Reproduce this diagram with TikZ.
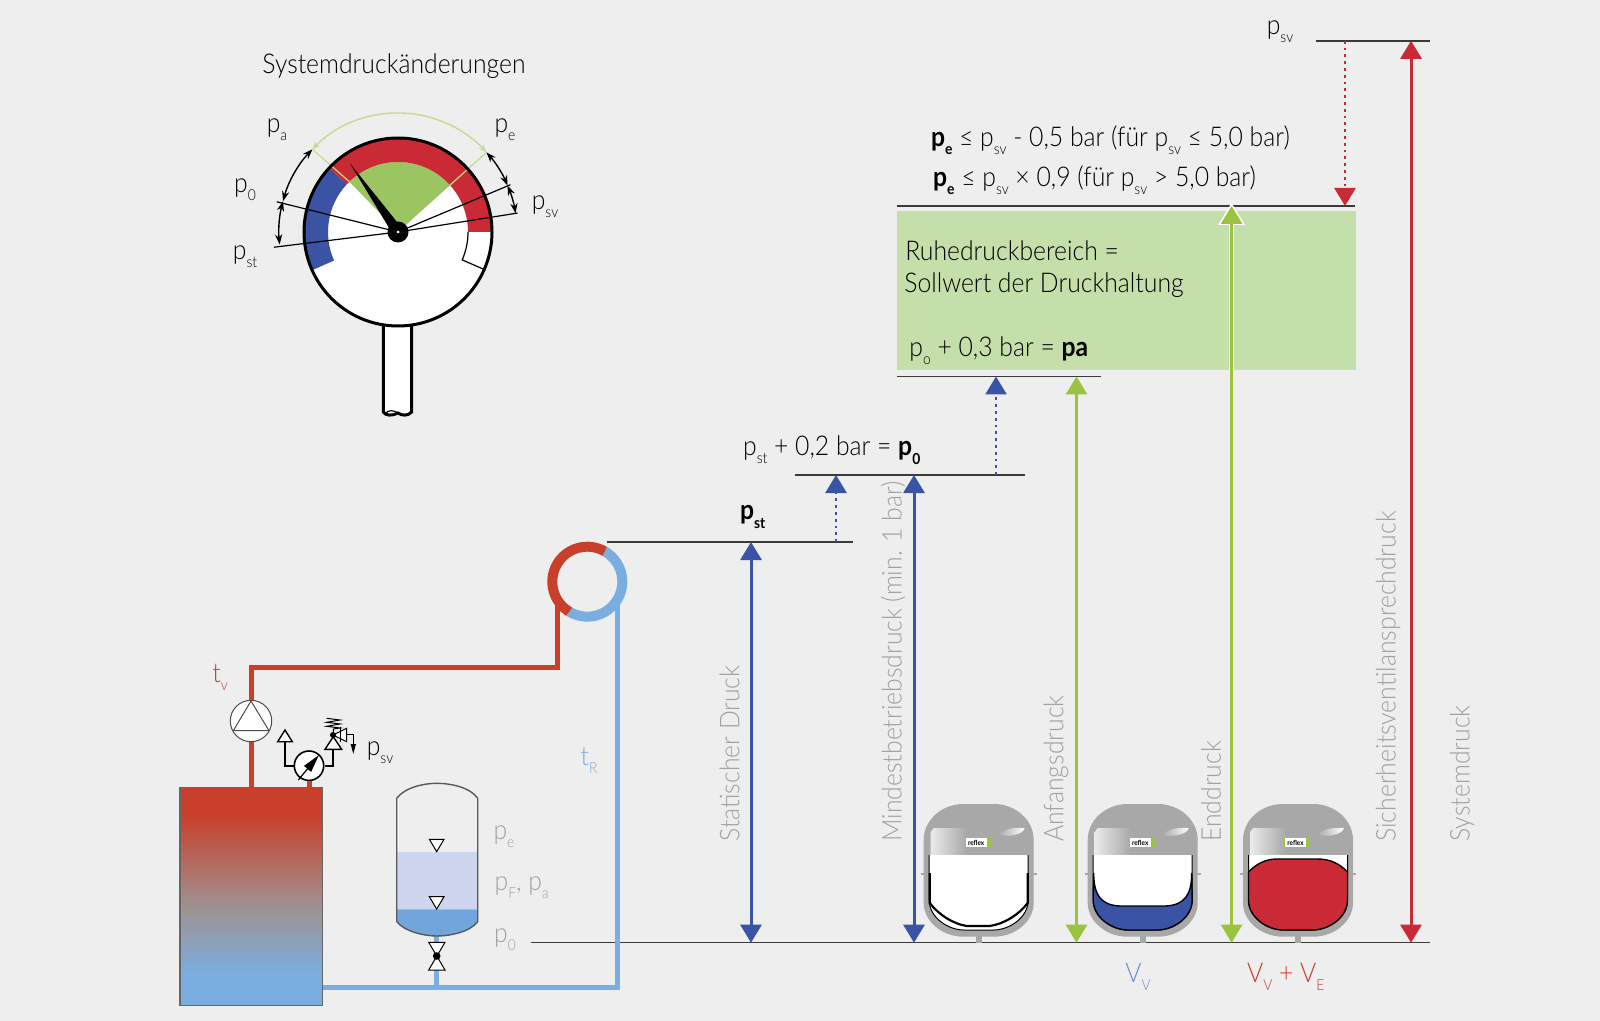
\documentclass[tikz,border=0pt]{standalone}
\usepackage{fontspec}
\setmainfont{Lato}[UprightFont=* Light,BoldFont=* Bold,FakeStretch=0.91]
\usepackage{tikz}
\usetikzlibrary{arrows.meta}

\definecolor{bgGrey}{HTML}{EEEEEE}
\definecolor{lvlBlue}{HTML}{3A53A4}
\definecolor{lvlGreen}{HTML}{9AC43F}
\definecolor{gaugeGreen}{HTML}{9AC560}
\definecolor{lvlRed}{HTML}{C92A35}
\definecolor{boxGreen}{HTML}{C5DFAA}
\definecolor{pipeRed}{HTML}{C8402B}
\definecolor{pipeBlue}{HTML}{7AAEE0}
\definecolor{boilerMid}{HTML}{A0908F}
\definecolor{tankLight}{HTML}{CDD6EE}
\definecolor{tankWater}{HTML}{73A5DD}
\definecolor{labelGrey}{HTML}{A0A0A0}
\definecolor{vesselGrey}{HTML}{A8A8A8}
\definecolor{darkLine}{HTML}{3A3A3A}

\tikzset{
    txt/.style={inner sep=0pt,text=black,font=\fontsize{13.6}{15}\selectfont},
    greytxt/.style={txt,text=labelGrey},
    uptxt/.style={greytxt,rotate=90,anchor=west},
    level/.style={darkLine,line width=0.75pt},
    updown/.style={line width=1.5pt,{Triangle[width=10.5pt,length=9pt]}-{Triangle[width=10.5pt,length=9pt]}},
    uponly/.style={line width=1.4pt,dotted,-{Triangle[width=10.5pt,length=9pt]}},
    swing/.style={black,line width=0.7pt,{Stealth[length=5pt,width=3.6pt]}-{Stealth[length=5pt,width=3.6pt]}},
    hotpipe/.style={pipeRed,line width=2.5pt},
    coldpipe/.style={pipeBlue,line width=2.5pt},
    symb/.style={black,line width=0.9pt},
}

\newcommand{\psub}[2]{#1\raisebox{-0.6ex}{\fontsize{7.6}{8}\selectfont #2}}

\begin{document}
\begin{tikzpicture}[x=0.5pt,y=-0.5pt]
    \useasboundingbox (0,0) rectangle (1600,1021);
    \fill[bgGrey] (0,0) rectangle (1600,1021);

    % Named levels
    \coordinate (baseL) at (531,942.7);
    \coordinate (baseR) at (1430,942.7);
    \coordinate (stL) at (606.7,542);
    \coordinate (stR) at (853,542);
    \coordinate (nullL) at (795,475);
    \coordinate (nullR) at (1025,475);
    \coordinate (paL) at (897,376.5);
    \coordinate (paR) at (1101,376.5);
    \coordinate (peL) at (897,206);
    \coordinate (peR) at (1355,206);
    \coordinate (svL) at (1316,40.8);
    \coordinate (svR) at (1430,40.8);

    % Green box
    \node[fill=boxGreen,inner sep=0pt,minimum width=229.5pt,minimum height=79.5pt,anchor=north west] (rest) at (897,211) {};

    % Level lines
    \foreach \a/\b in {baseL/baseR,stL/stR,nullL/nullR,paL/paR,peL/peR,svL/svR} {
        \draw[level] (\a) -- (\b);
    }

    % Arrows between the levels
    \foreach \x/\a/\b/\col in {751/stL/baseL/lvlBlue,914/nullL/baseL/lvlBlue,1076.5/paL/baseL/lvlGreen,1411/svL/baseL/lvlRed} {
        \draw[updown,\col] (\x,0 |- \a) -- (\x,0 |- \b);
    }
    \draw[white,line width=2.8pt] (1231.6,370) -- (1231.6,214);
    \fill[white] (1231.6,203) -- (1245,225) -- (1218,225) -- cycle;
    \draw[updown,lvlGreen] (1231.6,0 |- peL) -- (1231.6,0 |- baseL);
    \draw[uponly,lvlBlue] (836,0 |- stL) -- (836,0 |- nullL);
    \draw[uponly,lvlBlue] (996,0 |- nullL) -- (996,0 |- paL);
    \draw[uponly,lvlRed] (1345,0 |- svL) -- (1345,0 |- peL);

    % Texts at the levels
    \node[txt] (tSv) at (1280,32) {\psub{p}{sv}};
    \node[txt,anchor=west] (tPeA) at (930.6,140) {\textbf{\psub{p}{e}} ≤ \psub{p}{sv} - 0,5 bar (für \psub{p}{sv} ≤ 5,0 bar)};
    \node[txt,anchor=west] (tPeB) at (932.7,180) {\textbf{\psub{p}{e}} ≤ \psub{p}{sv} × 0,9 (für \psub{p}{sv} > 5,0 bar)};
    \node[txt,anchor=west] (tRest) at (905,251) {Ruhedruckbereich =};
    \node[txt,anchor=west] (tSoll) at (904,285) {Sollwert der Druckhaltung};
    \node[txt,anchor=west] (tPa) at (909,351) {\psub{p}{o} + 0,3 bar = \textbf{pa}};
    \node[txt] (tNull) at (831.7,450) {\psub{p}{st} + 0,2 bar = \textbf{\psub{p}{0}}};
    \node[txt] (tSt) at (752.7,517) {\textbf{\psub{p}{st}}};

    % Upright grey labels
    \foreach \x/\label in {729.6/Statischer Druck,893/Mindestbetriebsdruck (min. 1 bar),1056/Anfangsdruck,1211/Enddruck,1388/Sicherheitsventilansprechdruck,1462/Systemdruck} {
        \node[uptxt] at (\x,842) {\label};
    }

    % Vessel bodies
    \foreach \cx in {978.7,1142.7,1298} {
        \begin{scope}[shift={(\cx,0)}]
            \fill[vesselGrey] (-3,936) rectangle (3,943);
            \fill[vesselGrey] (-58,873) rectangle (58,875);
            \fill[vesselGrey] (-55,840) .. controls (-55,820) and (-37,804) .. (-15,804) -- (15,804)
                .. controls (37,804) and (55,820) .. (55,840) -- (55,903)
                .. controls (55,921) and (37,936.7) .. (15,936.7) -- (-15,936.7)
                .. controls (-37,936.7) and (-55,921) .. (-55,903) -- cycle;
            \shade[left color=white!92!black,right color=vesselGrey] (-48,855) -- (-48,832) -- (-45,828) -- (-12,828) -- (-12,855) -- cycle;
            \shade[left color=vesselGrey,right color=white] (19,835) .. controls (28,827) and (38,828) .. (46,828) .. controls (44,835) and (30,837) .. (19,835) -- cycle;
            \fill[lvlGreen] (-14,838) rectangle (12,847);
            \node[fill=white,inner sep=0pt,minimum width=10.5pt,minimum height=4.5pt,text=black,font=\fontsize{3.5}{4}\bfseries\selectfont] at (-2.5,842.5) {reflex};
            \fill[white] (-49.5,855) -- (49.5,855) -- (49.5,900)
                .. controls (49.5,918) and (30,930) .. (15,930) -- (-15,930)
                .. controls (-30,930) and (-49.5,918) .. (-49.5,900) -- cycle;
            \draw[black,line width=0.5pt] (-49.5,855) -- (-49.5,900)
                .. controls (-49.5,918) and (-30,930) .. (-15,930) -- (15,930)
                .. controls (30,930) and (49.5,918) .. (49.5,900) -- (49.5,855);
        \end{scope}
    }

    % Vessel membranes
    \begin{scope}[shift={(978.7,0)}]
        \draw[black,line width=1.1pt] (-49,873) -- (-49,903) .. controls (-40,915) and (-25,924) .. (-12,926) -- (11,926)
            .. controls (25,924) and (40,915) .. (49,903) -- (49,873);
    \end{scope}
    \begin{scope}[shift={(1142.7,0)}]
        \filldraw[fill=lvlBlue,draw=black,line width=0.7pt] (-49,873) .. controls (-49,895) and (-42,905) .. (-23,906) -- (23,906)
            .. controls (42,905) and (49,895) .. (49,873) -- (49.5,900)
            .. controls (49.5,918) and (30,930) .. (15,930) -- (-15,930)
            .. controls (-30,930) and (-49.5,918) .. (-49.5,900) -- cycle;
    \end{scope}
    \begin{scope}[shift={(1298,0)}]
        \filldraw[fill=lvlRed,draw=black,line width=0.7pt] (-49.5,872) .. controls (-40,862) and (-30,859) .. (-21,859) -- (19,859)
            .. controls (30,859) and (40,862) .. (49.5,872) -- (49.5,900)
            .. controls (49.5,918) and (30,930) .. (15,930) -- (-15,930)
            .. controls (-30,930) and (-49.5,918) .. (-49.5,900) -- cycle;
    \end{scope}
    \node[txt,text=pipeBlue!70!lvlBlue] (tVv) at (1138,977) {\psub{V}{V}};
    \node[txt,text=pipeRed] (tVe) at (1285.7,977) {\psub{V}{V} + \psub{V}{E}};

    % Gauge with its stem
    \draw[black,line width=1.5pt,fill=white] (383.3,320) -- (383.3,412) .. controls (386,416) and (392,416) .. (398,413) .. controls (402,416) and (408,416) .. (411.7,412) -- (411.7,320) -- cycle;
    \draw[black,line width=0.6pt] (398,413) .. controls (394,410) and (388,410) .. (386,413);
    \begin{scope}[shift={(398,232)},y=0.5pt]
        \fill[white] (0,0) circle[radius=94];
        \fill[gaugeGreen] (0,0) -- (42:70) arc[start angle=42,end angle=134,radius=70] -- cycle;
        \fill[lvlBlue] (137:94) arc[start angle=137,end angle=204,radius=94] -- (204:70) arc[start angle=204,end angle=137,radius=70] -- cycle;
        \fill[lvlRed] (0:94) arc[start angle=0,end angle=137,radius=94] -- (137:70) arc[start angle=137,end angle=0,radius=70] -- cycle;
        \draw[black,line width=0.6pt] (0:70) arc[start angle=0,end angle=-23.5,radius=70] -- (-23.5:94);
        \draw[lvlGreen!60!white,line width=0.6pt] (42:70) -- (42:118) (134:70) -- (136:118);
        \draw[lvlGreen!60!white,line width=0.7pt,{Stealth[length=4pt,width=3pt]}-{Stealth[length=4pt,width=3pt]}] (136:119) arc[start angle=136,end angle=42,radius=119];
        \draw[swing] (136:119) arc[start angle=136,end angle=165,radius=119];
        \draw[swing] (165:119) arc[start angle=165,end angle=186,radius=119];
        \draw[swing] (42:119) arc[start angle=42,end angle=23,radius=119];
        \draw[swing] (23:119) arc[start angle=23,end angle=9,radius=119];
        \foreach \ang/\len in {166/125,187/125,22.8/122,9/121} {
            \draw[black,line width=0.6pt] (0,0) -- (\ang:\len);
        }
        \fill[black] (125:84) -- (215:5.5) -- (35:5.5) -- cycle;
        \fill[black] (0,0) circle[radius=10.5];
        \fill[white] (0,0) circle[radius=1.5];
        \draw[black,line width=1.5pt] (0,0) circle[radius=94];
    \end{scope}
    \node[txt] (tTitle) at (394,66) {Systemdruckänderungen};
    \node[txt] (tGa) at (277,130) {\psub{p}{a}};
    \node[txt] (tGe) at (505,130) {\psub{p}{e}};
    \node[txt] (tG0) at (245,190) {\psub{p}{0}};
    \node[txt] (tGst) at (245,257) {\psub{p}{st}};
    \node[txt] (tGsv) at (545,207) {\psub{p}{sv}};

    % Boiler
    \fill[pipeRed] (180,787.7) rectangle (322.7,815);
    \shade[top color=pipeRed,bottom color=boilerMid] (180,815) rectangle (322.7,905);
    \shade[top color=boilerMid,bottom color=pipeBlue] (180,905) rectangle (322.7,975);
    \fill[pipeBlue] (180,975) rectangle (322.7,1005.7);
    \draw[black!60,line width=0.7pt] (180,787.7) rectangle (322.7,1005.7);

    % Pipes
    \node[draw=black!70,fill=white,circle,line width=0.5pt,minimum size=20.7pt,inner sep=0pt] (pump) at (251,721) {};
    \node[draw=black,fill=white,circle,line width=0.8pt,minimum size=14.7pt,inner sep=0pt] (mano) at (309,765.7) {};
    \coordinate (bTopA) at (251,787.7);
    \coordinate (bTopB) at (309,787.7);
    \coordinate (ringL) at (557.7,600);
    \coordinate (ringR) at (617.3,600);
    \coordinate (bRight) at (322.7,987.7);
    \coordinate (tankStub) at (436.7,936);
    \draw[hotpipe] (pump.south) -- (bTopA);
    \draw[hotpipe] (pump.north) -- (251,667.3) -- (557.7,667.3) -- (ringL);
    \draw[hotpipe] (mano.south) -- (bTopB);
    \draw[coldpipe] (ringR) -- (617.3,987.7) -- (bRight);
    \draw[coldpipe] (436.7,987.7) -- (tankStub);
    \begin{scope}[shift={(587.3,581.7)},y=0.5pt]
        \draw[line width=5pt,pipeBlue] (60:35) arc[start angle=60,end angle=-121,radius=35];
        \draw[line width=5pt,pipeRed] (60:35) arc[start angle=60,end angle=239,radius=35];
    \end{scope}
    \node[txt,text=pipeRed] (tTv) at (220,677) {\psub{t}{v}};
    \node[txt,text=pipeBlue] (tTr) at (589,760) {\psub{t}{R}};

    % Pump triangle
    \draw[black!70,line width=0.5pt,fill=white] (251,701) -- (233.3,730.7) -- (269,730.7) -- cycle;

    % Manometer and valve symbols
    \draw[symb] (mano.west) -- (285,765.7) -- (285,741.7);
    \draw[symb] (mano.east) -- (333.3,765.7) -- (333.3,749.3);
    \draw[black,line width=0.7pt,fill=white] (285,730) -- (277.7,741.7) -- (292.3,741.7) -- cycle;
    \draw[black,line width=0.7pt,fill=white] (333.3,736.7) -- (325,749.3) -- (341.6,749.3) -- cycle;
    \draw[black,line width=0.6pt,-{Triangle[width=4.5pt,length=9pt]}] (298.3,780) -- (319,755);
    \draw[black,line width=0.5pt] (326.7,718.3) -- (340,720) -- (326.7,722.3) -- (340,724) -- (326.7,726.3) -- (340,728) -- (333.3,729) -- (333.3,735);
    \draw[black,line width=0.5pt,fill=white] (333,735) -- (346.7,728.3) -- (346.7,741.7) -- cycle;
    \draw[black,line width=0.5pt] (340.7,727.3) -- (340.7,741.7);
    \draw[black,line width=0.5pt,-{Triangle[width=2.5pt,length=5pt]}] (346.7,734.3) -- (353.3,734.3) -- (353.3,754);
    \fill[black] (333,735) circle[radius=1.5pt];
    \node[txt] (tSymb) at (380,753) {\psub{p}{sv}};

    % Tank
    \fill[tankLight] (396.7,851.7) rectangle (477.7,909.3);
    \fill[tankWater] (396.7,909.3) -- (477.7,909.3) -- (477.7,921.7) .. controls (470,932) and (450,936) .. (436.7,936) .. controls (425,936) and (405,932) .. (396.7,921.7) -- cycle;
    \draw[black!65,line width=0.7pt] (396.7,798.3) .. controls (405,787) and (425,783.3) .. (436.7,783.3) .. controls (450,783.3) and (470,787) .. (477.7,798.3) -- (477.7,921.7) .. controls (470,932) and (450,936) .. (436.7,936) .. controls (425,936) and (405,932) .. (396.7,921.7) -- cycle;
    \foreach \yy in {839.3,896.7} {
        \draw[black,line width=0.5pt,fill=white] (429.4,\yy) -- (444,\yy) -- (436.7,\yy+12.4) -- cycle;
    }
    \draw[black,line width=0.5pt,fill=white] (428.7,942.3) -- (445,942.3) -- (428.7,970) -- (445,970) -- cycle;
    \fill[black] (436.7,956) circle[radius=1.9pt];
    \node[greytxt] (tTe) at (504,837) {\psub{p}{e}};
    \node[greytxt] (tTf) at (521.7,888) {\psub{p}{F}, \psub{p}{a}};
    \node[greytxt] (tT0) at (505,940) {\psub{p}{0}};
\end{tikzpicture}
\end{document}
